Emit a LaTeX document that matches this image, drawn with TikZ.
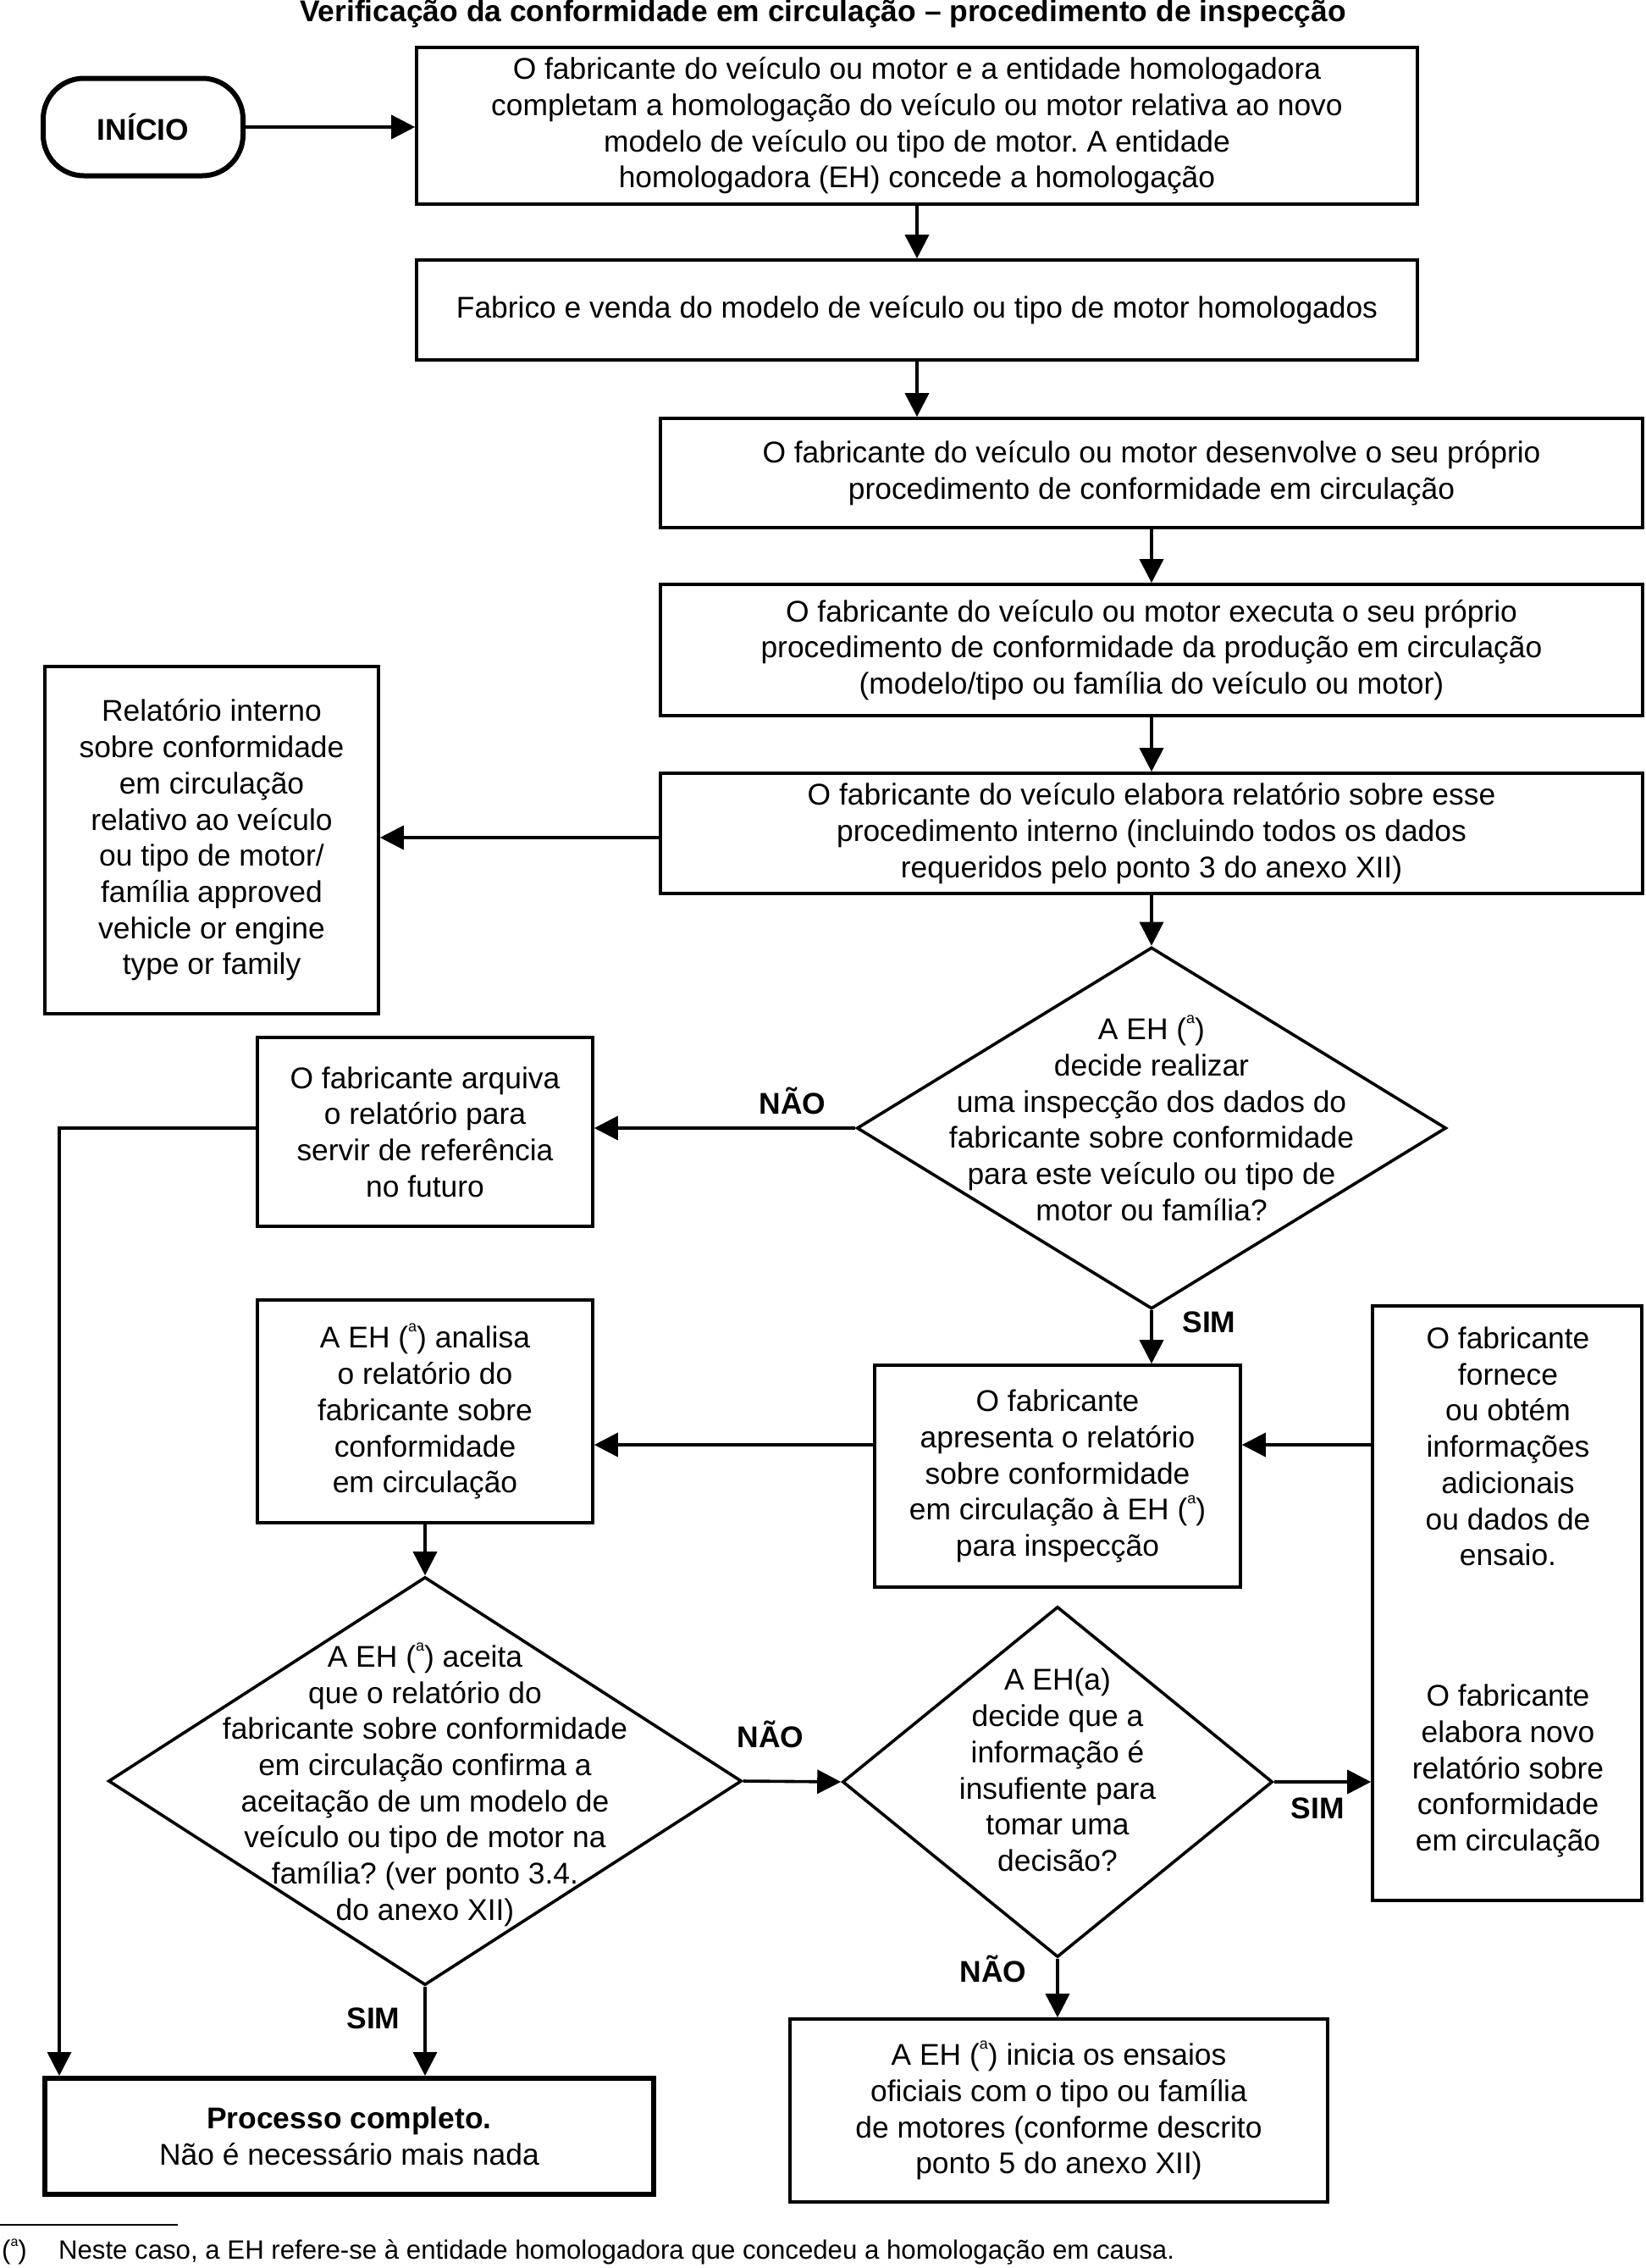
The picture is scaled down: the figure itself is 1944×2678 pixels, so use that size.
\documentclass[tikz,border=0pt]{standalone}
\usepackage{fontspec}
\setmainfont{Liberation Sans}
\usetikzlibrary{shapes.geometric,arrows.meta}
\frenchspacing

\newcommand{\sa}{\raisebox{0.55em}{\fontsize{9}{9}\selectfont a}}

\tikzset{
  box/.style={draw, line width=1.8pt, rectangle, align=center, inner sep=0pt},
  dec/.style={draw, line width=1.8pt, diamond, inner sep=0pt},
  flow/.style={line width=1.8pt, -{Triangle[length=14pt,width=14pt]}},
  lbl/.style={font=\fontsize{17.7}{21.35}\selectfont\bfseries}
}

\begin{document}
\begin{tikzpicture}[x=0.5pt, y=-0.5pt, font=\fontsize{17.7}{21.35}\selectfont]
    \useasboundingbox (0,0) rectangle (1944,2678);

    \node[font=\fontsize{17.7}{21.35}\selectfont\bfseries] (title) at (972,16) {Verificação da conformidade em circulação -- procedimento de inspecção};

    \node[box, line width=3pt, rounded corners=24pt, minimum width=118pt, minimum height=57.5pt, font=\fontsize{17.7}{21.35}\selectfont\bfseries] (start) at (169,150) {INÍCIO};

    \node[box, minimum width=591pt, minimum height=92.5pt] (b1) at (1083,148.5) {O fabricante do veículo ou motor e a entidade homologadora\\completam a homologação do veículo ou motor relativa ao novo\\modelo de veículo ou tipo de motor. A entidade\\homologadora (EH) concede a homologação};

    \node[box, minimum width=591pt, minimum height=59pt] (b2) at (1083,366) {Fabrico e venda do modelo de veículo ou tipo de motor homologados};

    \node[box, minimum width=580pt, minimum height=64.5pt] (b3) at (1360,558.5) {O fabricante do veículo ou motor desenvolve o seu próprio\\procedimento de conformidade em circulação};

    \node[box, minimum width=580pt, minimum height=77.5pt] (b4) at (1360,767.5) {O fabricante do veículo ou motor executa o seu próprio\\procedimento de conformidade da produção em circulação\\(modelo/tipo ou família do veículo ou motor)};

    \node[box, minimum width=580pt, minimum height=71pt] (b5) at (1360,984) {O fabricante do veículo elabora relatório sobre esse\\procedimento interno (incluindo todos os dados\\requeridos pelo ponto 3 do anexo XII)};

    \node[box, minimum width=197pt, minimum height=205pt] (rel) at (250,992) {Relatório interno\\sobre conformidade\\em circulação\\relativo ao veículo\\ou tipo de motor/\\família approved\\vehicle or engine\\type or family};

    \node[dec, minimum width=348pt, minimum height=213.5pt] (d1) at (1360,1332) {};
    \node[align=center] (d1t) at ([yshift=6pt]d1) {A EH (\sa)\\decide realizar\\uma inspecção dos dados do\\fabricante sobre conformidade\\para este veículo ou tipo de\\motor ou família?};

    \node[box, minimum width=198pt, minimum height=111.5pt] (arq) at (502,1336.5) {O fabricante arquiva\\o relatório para\\servir de referência\\no futuro};

    \node[box, minimum width=216pt, minimum height=131pt] (apr) at (1249,1743) {O fabricante\\apresenta o relatório\\sobre conformidade\\em circulação à EH (\sa)\\para inspecção};

    \node[box, minimum width=198pt, minimum height=131.5pt] (ana) at (502,1666.5) {A EH (\sa) analisa\\o relatório do\\fabricante sobre\\conformidade\\em circulação};

    \node[box, minimum width=159pt, minimum height=351pt] (forn) at (1780,1893) {};
    \node[align=center] (fornt) at (1781,1708) {O fabricante\\fornece\\ou obtém\\informações\\adicionais\\ou dados de\\ensaio.};
    \node[align=center] (elab) at (1781,2091) {O fabricante\\elabora novo\\relatório sobre\\conformidade\\em circulação};

    \node[dec, minimum width=374pt, minimum height=241pt] (d2) at (502,2103) {};
    \node[align=center] (d2t) at ([yshift=-2pt]d2) {A EH (\sa) aceita\\que o relatório do\\fabricante sobre conformidade\\em circulação confirma a\\aceitação de um modelo de\\veículo ou tipo de motor na\\família? (ver ponto 3.4.\\do anexo XII)};

    \node[dec, minimum width=254pt, minimum height=207pt] (d3) at (1249,2104) {};
    \node[align=center] (d3t) at ([yshift=7pt]d3) {A EH(a)\\decide que a\\informação é\\insufiente para\\tomar uma\\decisão?};

    \node[box, minimum width=317.5pt, minimum height=108pt] (ini) at (1250.5,2492) {A EH (\sa) inicia os ensaios\\oficiais com o tipo ou família\\de motores (conforme descrito\\ponto 5 do anexo XII)};

    \node[box, line width=3pt, minimum width=359.5pt, minimum height=68.5pt] (proc) at (412.5,2522.5) {\textbf{Processo completo.}\\Não é necessário mais nada};

    \coordinate (lft) at (70,1332);
    \coordinate (ya) at (0,1706);

    \draw[flow] (start.east) -- (start.east -| b1.west);
    \draw[flow] (b1.south) -- (b2.north);
    \draw[flow] (b2.south) -- (b2.south |- b3.north);
    \draw[flow] (b3.south) -- (b4.north);
    \draw[flow] (b4.south) -- (b5.north);
    \draw[flow] (b5.west |- 0,989) -- (rel.east |- 0,989);
    \draw[flow] (b5.south) -- (d1.north);
    \draw[flow] (d1.west) -- (d1.west -| arq.east);
    \draw[flow] (arq.west |- d1.west) -- (lft) -- (lft |- proc.north);
    \draw[flow] (d1.south) -- (d1.south |- apr.north);
    \draw[flow] (apr.west |- ya) -- (ana.east |- ya);
    \draw[flow] (forn.west |- ya) -- (apr.east |- ya);
    \draw[flow] (ana.south) -- (d2.north);
    \draw[flow] (d2.east) -- (d3.west);
    \draw[flow] (d3.east) -- (d3.east -| forn.west);
    \draw[flow] (d3.south) -- (d3.south |- ini.north);
    \draw[flow] (d2.south) -- (d2.south |- proc.north);

    \node[lbl] (n1) at (936,1300) {NÃO};
    \node[lbl] (s1) at (1428,1561) {SIM};
    \node[lbl] (n2) at (910,2048) {NÃO};
    \node[lbl] (s2) at (1556,2135) {SIM};
    \node[lbl] (n3) at (1173,2325) {NÃO};
    \node[lbl] (s3) at (441,2383) {SIM};

    % footnote
    \draw[line width=1.2pt] (0,2627) -- (210,2627);
    \node[font=\fontsize{15.6}{19}\selectfont] (fnm) at (17,2659) {(\raisebox{0.5em}{\fontsize{8}{8}\selectfont a})};
    \node[anchor=west, font=\fontsize{15.6}{19}\selectfont] (fnt) at (62,2659) {Neste caso, a EH refere-se à entidade homologadora que concedeu a homologação em causa.};
\end{tikzpicture}
\end{document}
